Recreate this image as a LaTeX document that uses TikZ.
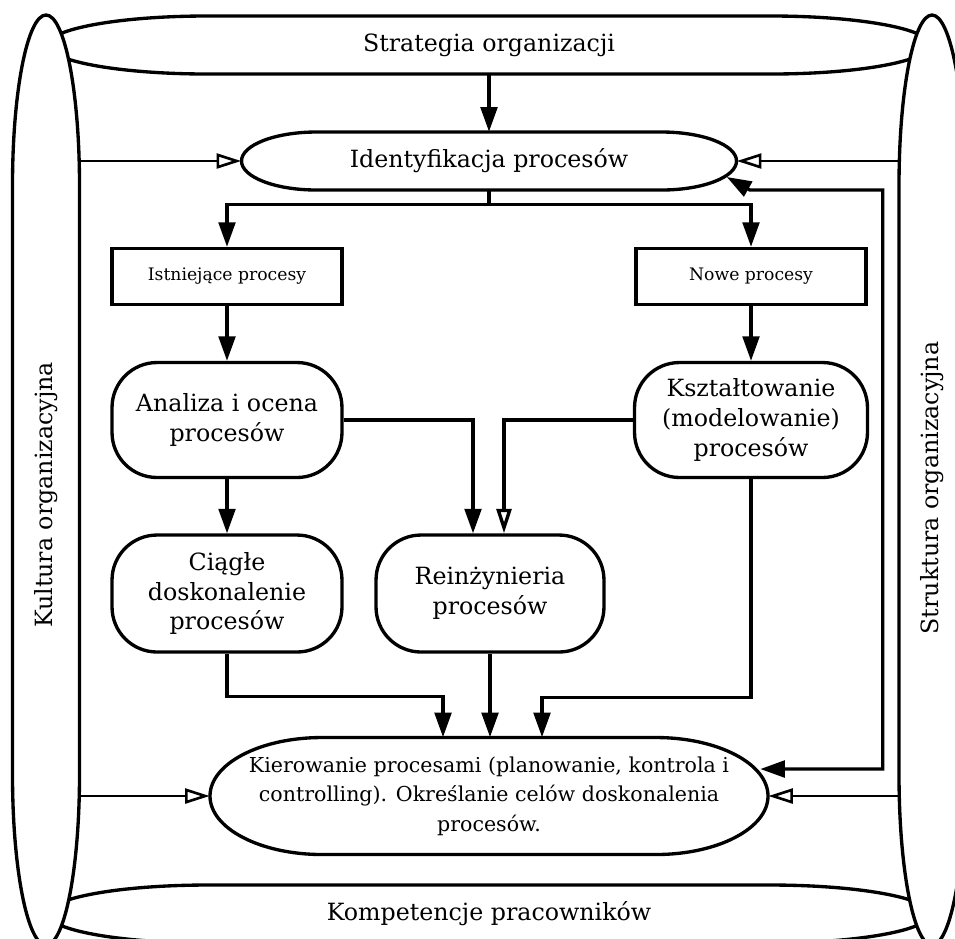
\documentclass[tikz,border=0pt]{standalone}
\usepackage{fontspec}
\setmainfont{DejaVu Serif}
\usepackage{tikz}
\usetikzlibrary{
	arrows.meta,
	calc,
	backgrounds,
	positioning
}

% 横向长椭圆: 节点, 半宽, 半高, 端部半径 (px)
\newcommand{\hcapsule}[4]{%
	\draw[frame, fill=white] ($(#1.center)+(-#2+#4,#3)$) -- ($(#1.center)+(#2-#4,#3)$)
		arc[start angle=90, end angle=-90, x radius=#4*0.02cm, y radius=#3*0.02cm]
		-- ($(#1.center)+(-#2+#4,-#3)$)
		arc[start angle=270, end angle=90, x radius=#4*0.02cm, y radius=#3*0.02cm] -- cycle;}
% 纵向长椭圆: 节点, 半宽, 半高, 端部半径, 上移
\newcommand{\vcapsule}[5]{%
	\draw[frame, fill=white] ($(#1.center)+(#2,#3-#4+#5)$)
		arc[start angle=0, end angle=180, x radius=#2*0.02cm, y radius=#4*0.02cm]
		-- ($(#1.center)+(-#2,-#3+#4+#5)$)
		arc[start angle=180, end angle=360, x radius=#2*0.02cm, y radius=#4*0.02cm] -- cycle;}

\begin{document}
\begin{tikzpicture}[x=0.02cm, y=0.02cm,
		frame/.style={line width=1.9pt},
		lbl/.style={font=\fontsize{13.5}{17}\selectfont, align=center, inner sep=0pt},
		box/.style={draw, frame, font=\fontsize{9.8}{12}\selectfont, minimum width=4.6cm, minimum height=1.12cm},
		rbox/.style={draw, frame, lbl, rounded corners=0.9cm, minimum width=4.6cm, minimum height=2.3cm},
		>={Triangle[length=14pt, width=9.5pt]},
		arr/.style={frame, ->},
		oarr/.style={line width=1.5pt, -{Triangle[open, length=14pt, width=8.5pt]}}]
	\useasboundingbox (0,0) rectangle (955,-938);
	\clip (0,0) rectangle (955,-938);
	
	% 外框四个部分
	\node[lbl, minimum width=17.64cm, minimum height=1.16cm] (strat) at (489,-45) {Strategia organizacji};
	\node[lbl, minimum width=17.64cm, minimum height=1.16cm] (komp) at (489,-914) {Kompetencje pracowników};
	\node[lbl, minimum width=1.34cm, minimum height=18.6cm] (kult) at (46,-495) {\rotatebox{90}{Kultura organizacyjna}};
	\node[lbl, minimum width=1.34cm, minimum height=18.6cm] (strukt) at (932,-488) {\rotatebox{90}{Struktura organizacyjna}};
	
	\node[lbl, minimum width=9.9cm, minimum height=1.16cm] (ident) at (489,-161) {Identyfikacja procesów};
	\node[lbl, font=\fontsize{11.7}{16.8}\selectfont, minimum width=11.16cm, minimum height=2.34cm] (kier) at (489,-796)
		{Kierowanie procesami (planowanie, kontrola i\\controlling). Określanie celów doskonalenia\\procesów.};
	
	\node[box] (istn) at (227,-276.5) {Istniejące procesy};
	\node[box] (nowe) at (751,-276.5) {Nowe procesy};
	\node[rbox] (anal) at (227,-420) {Analiza i ocena\\procesów};
	\node[rbox, minimum width=4.66cm] (ksztalt) at (751,-420) {Kształtowanie\\(modelowanie)\\procesów};
	\node[rbox, minimum height=2.34cm] (ciagle) at (227,-593.5) {Ciągłe\\doskonalenie\\procesów};
	\node[rbox, minimum width=4.56cm, minimum height=2.34cm] (reinz) at (490,-593.5) {Reinżynieria\\procesów};
	
	\begin{scope}[on background layer]
		\fill[white] (0,0) rectangle (955,-938);
		\hcapsule{strat}{441}{29}{159}
		\hcapsule{komp}{441}{29}{160}
		\vcapsule{kult}{33.5}{465}{170}{15}
		\vcapsule{strukt}{33}{465}{170}{8}
		\hcapsule{ident}{247.5}{29}{75}
		\hcapsule{kier}{279}{58.5}{112}
	\end{scope}
	
	% 主流程
	\draw[arr] (strat) -- (ident);
	\draw[frame] (ident.south) -- ++(0,-14);
	\draw[arr] ($(ident.south)+(0,-14)$) -| (istn.north);
	\draw[arr] ($(ident.south)+(0,-14)$) -| (nowe.north);
	\draw[arr] (istn) -- (anal);
	\draw[arr] (nowe) -- (ksztalt);
	\draw[arr] (anal) -- (ciagle);
	\draw[arr] (anal.east) -| ($(reinz.north)+(-17,0)$);
	\draw[oarr, line width=1.9pt] (ksztalt.west) -| ($(reinz.north)+(14,0)$);
	\draw[arr] (ciagle.south) -- ++(0,-43) -| ($(kier.north)+(-46,0)$);
	\draw[arr] (reinz.south) -- (reinz.south |- kier.north);
	\draw[arr] (ksztalt.south) -- ++(0,-218) -| ($(kier.north)+(53,0)$);
	
	% 反馈
	\draw[frame, <->] ($(ident.east)+(-10,-16)$) -- ++(23,-13) -- ++(133,0) |- ($(kier.east)+(-8,27)$);
	
	% 环境影响
	\draw[oarr] (kult.east |- ident.west) -- (ident.west);
	\draw[oarr] (strukt.west |- ident.east) -- (ident.east);
	\draw[oarr] (kult.east |- kier.west) -- (kier.west);
	\draw[oarr] (strukt.west |- kier.east) -- (kier.east);
\end{tikzpicture}
\end{document}
